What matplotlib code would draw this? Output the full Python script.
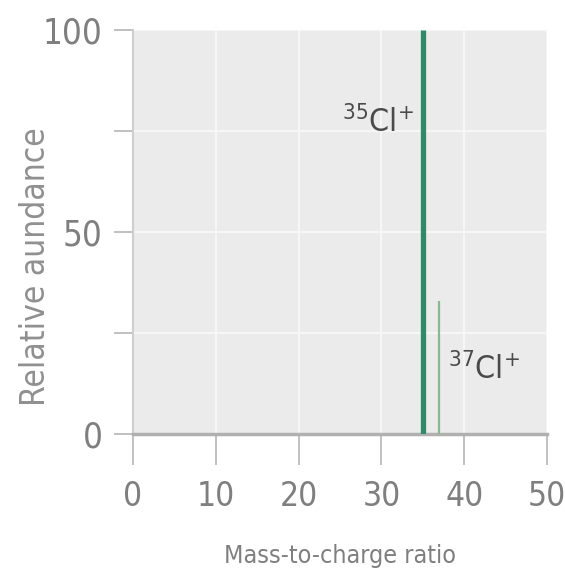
import matplotlib
matplotlib.use("Agg")
import matplotlib.pyplot as plt
from matplotlib import font_manager

# ---------------------------
# DATA
# ---------------------------
mass_to_charge = [35, 37]
abundance = [100, 33]
peak_labels = [r"$^{35}$Cl$^{+}$", r"$^{37}$Cl$^{+}$"]
x_ticks = [0, 10, 20, 30, 40, 50]
y_ticks = [0, 25, 50, 75, 100]
y_tick_labels = ["0", "", "50", "", "100"]

# condensed face of DejaVu if installed
cond = [f for f in font_manager.fontManager.ttflist
        if f.name == "DejaVu Sans" and f.stretch == "condensed"]
plt.rcParams["font.family"] = ["DejaVu Sans"]
plt.rcParams["font.stretch"] = "condensed"
plt.rcParams["mathtext.fontset"] = "custom"
if cond:
    plt.rcParams["mathtext.rm"] = "DejaVu Sans:stretch=condensed"
plt.rcParams["mathtext.default"] = "rm"

TXT = "#7f7f7f"
BG = "#ebebeb"

fig = plt.figure(figsize=(5.65, 5.77), dpi=100)
ax = fig.add_axes([0.2354, 0.2478, 0.7327, 0.700])
ax.set_facecolor(BG)

ax.set_xlim(0, 50)
ax.set_ylim(0, 100)
ax.set_xticks(x_ticks)
ax.set_yticks(y_ticks)
ax.set_yticklabels(y_tick_labels)

ax.grid(True, color="#f7f7f7", linewidth=1.4)
ax.set_axisbelow(True)

for s in ["top", "right"]:
    ax.spines[s].set_visible(False)
ax.spines["left"].set_color("#cfcfcf")
ax.spines["left"].set_linewidth(1.5)
ax.spines["bottom"].set_color("#b0b0b0")
ax.spines["bottom"].set_linewidth(2.5)

ax.tick_params(axis="x", length=22, width=1.2, color="#b5b5b5",
               pad=11, labelsize=24, labelcolor=TXT)
ax.tick_params(axis="y", length=14, width=1.2, color="#b5b5b5",
               pad=8, labelsize=25, labelcolor=TXT)

# peaks
colors = ["#2e8a68", "#86b98f"]
widths = [3.8, 1.6]
for x, h, c, w in zip(mass_to_charge, abundance, colors, widths):
    ax.vlines(x, 0, h, color=c, linewidth=w, zorder=3)

ax.text(mass_to_charge[0] - 1.0, 77, peak_labels[0], ha="right", va="center",
        fontsize=23, color="#4a4a4a")
ax.text(mass_to_charge[1] + 1.0, 16, peak_labels[1], ha="left", va="center",
        fontsize=23, color="#4a4a4a")

# axis titles placed in figure pixels to match the reference
fig.text(340 / 565, 1 - 556 / 577, "Mass-to-charge ratio", ha="center",
         va="center", fontsize=18, color=TXT)
fig.text(36 / 565, 1 - 267 / 577, "Relative aundance", ha="center",
         va="center", rotation=90, fontsize=24, color="#909090")

fig.savefig("out.png", dpi=100, facecolor="white")
